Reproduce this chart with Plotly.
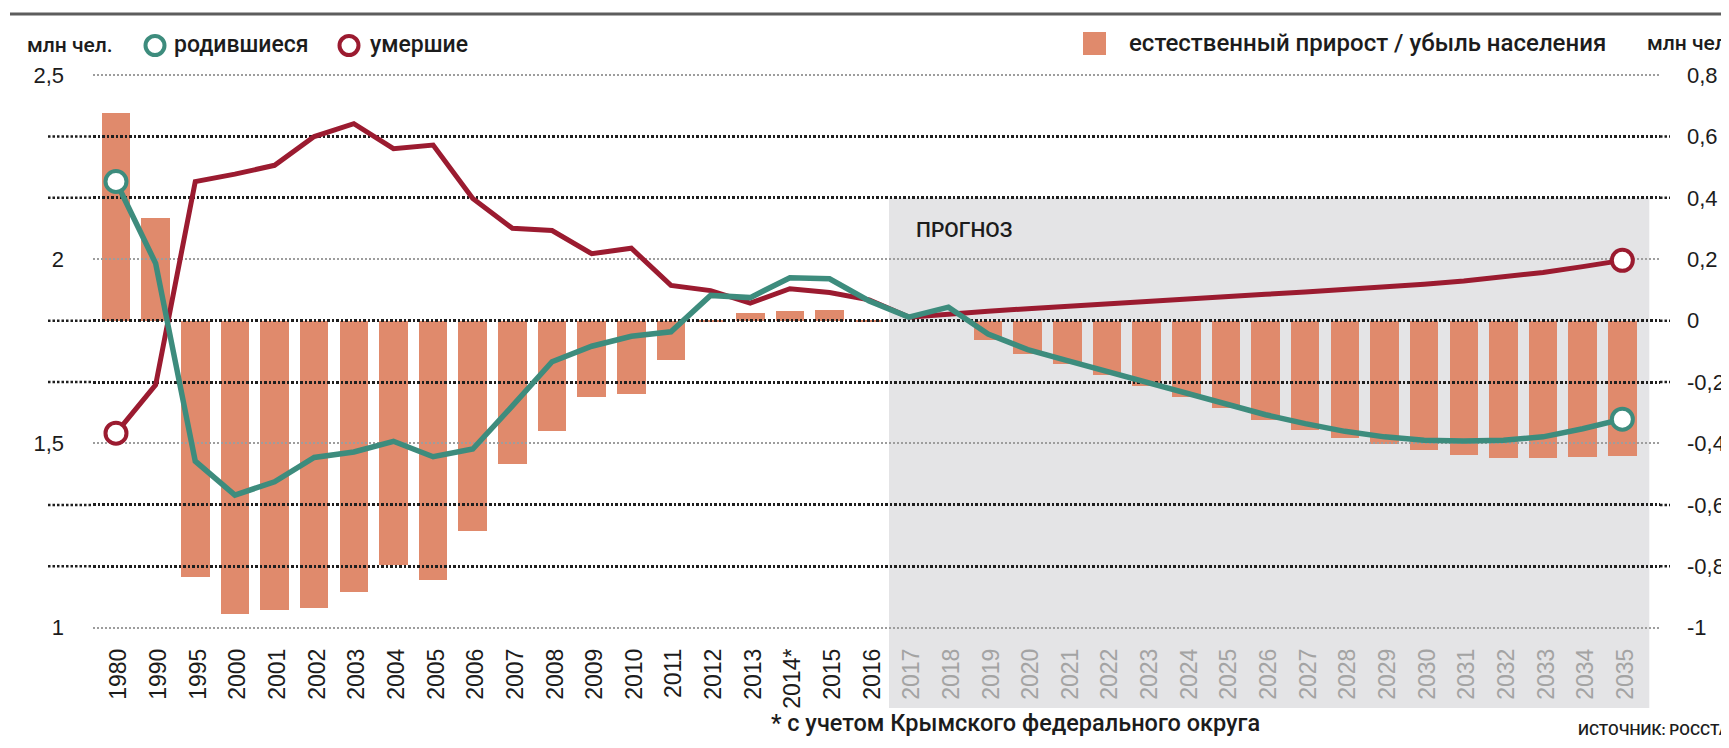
import plotly.graph_objects as go

# ---------------- data ----------------
years = ["1980", "1990", "1995", "2000", "2001", "2002", "2003", "2004", "2005",
         "2006", "2007", "2008", "2009", "2010", "2011", "2012", "2013", "2014*",
         "2015", "2016", "2017", "2018", "2019", "2020", "2021", "2022", "2023",
         "2024", "2025", "2026", "2027", "2028", "2029", "2030", "2031", "2032",
         "2033", "2034", "2035"]

# births, million people (left axis)
births = [2.211, 1.989, 1.452, 1.360, 1.396, 1.462, 1.477, 1.506, 1.464, 1.485,
          1.602, 1.722, 1.764, 1.791, 1.803, 1.902, 1.896, 1.950, 1.947, 1.887,
          1.843, 1.870, 1.797, 1.755, 1.725, 1.695, 1.665, 1.635, 1.606, 1.578,
          1.554, 1.533, 1.518, 1.509, 1.507, 1.509, 1.518, 1.540, 1.566]

# deaths, million people (left axis)
deaths = [1.528, 1.659, 2.211, 2.231, 2.255, 2.333, 2.368, 2.300, 2.310, 2.165,
          2.084, 2.078, 2.015, 2.030, 1.929, 1.915, 1.881, 1.920, 1.910, 1.890,
          1.843, 1.852, 1.859, 1.866, 1.873, 1.880, 1.886, 1.893, 1.899, 1.905,
          1.911, 1.917, 1.924, 1.932, 1.941, 1.952, 1.964, 1.980, 1.997]

# natural increase / decrease, million people (right axis)
natural = [0.678, 0.333, -0.836, -0.955, -0.942, -0.935, -0.885, -0.795, -0.843,
           -0.685, -0.468, -0.360, -0.248, -0.238, -0.127, -0.004, 0.025, 0.033,
           0.036, -0.002, 0.000, 0.000, -0.063, -0.108, -0.140, -0.177, -0.213,
           -0.248, -0.284, -0.323, -0.356, -0.381, -0.403, -0.421, -0.437, -0.447,
           -0.447, -0.444, -0.442]

forecast_from = "2017"

left_ticks = [1, 1.5, 2, 2.5]
left_tick_text = ["1", "1,5", "2", "2,5"]
right_ticks = [0.8, 0.6, 0.4, 0.2, 0, -0.2, -0.4, -0.6, -0.8, -1]
right_tick_text = ["0,8", "0,6", "0,4", "0,2", "0", "-0,2", "-0,4", "-0,6", "-0,8", "-1"]

# ---------------- styling ----------------
TEAL = "#3d8c7d"
RED = "#9b1b30"
BAR = "#e08a6c"
GREY = "#e4e4e6"
DARK_GRID = "#1e1e1e"
LIGHT_GRID = "#9d9d9d"
TXT_COLOR = "#1c1c1c"
NUM_FONT = "Liberation Sans, Arial, sans-serif"
TXT_FONT = "Roboto, sans-serif"

# page (viewport) size and the default 8px body margin of the html page
VW, VH, OFF = 1729, 748, 8
W, H = VW - OFF, VH - OFF
# plot area in viewport pixels
PL, PR, PT, PB = 93, 1660, 60, 640
PW, PH = PR - PL, PB - PT


def px(x):
    return (x - PL) / PW


def py(y):
    return (PB - y) / PH


idx = list(range(len(years)))
f0 = years.index(forecast_from)
x_range = [-0.58, len(years) - 1 + 0.95]
y_right_range = [-1.040, 0.849]


def r2l(r):  # right-axis value -> left-axis value (2 <-> 0.2, 1.5 <-> -0.4)
    return 2 + (r - 0.2) / 1.2


y_left_range = [r2l(v) for v in y_right_range]
dark_ticks = [t for t in right_ticks if all(abs(r2l(t) - l) > 1e-6 for l in left_ticks)]

tick_text = [y if i < f0 else f"<span style='color:#a3a3a3'>{y}</span>"
             for i, y in enumerate(years)]
ends = [1 if i in (0, len(years) - 1) else 0 for i in idx]

fig = go.Figure()

# subplot 1 (x / y): bars
fig.add_trace(go.Bar(
    x=idx, y=natural, xaxis="x", yaxis="y", width=0.72,
    marker=dict(color=BAR, line=dict(width=0)), showlegend=False, hoverinfo="skip"))

# subplot 2 (x2 / y2): carries only the dark dotted grid, drawn above the bars
fig.add_trace(go.Scatter(x=[], y=[], xaxis="x2", yaxis="y2", showlegend=False,
                         hoverinfo="skip"))

# subplot 3 (x3 / y3): births and deaths lines
fig.add_trace(go.Scatter(
    x=idx, y=deaths, xaxis="x3", yaxis="y3", mode="lines+markers",
    line=dict(color=RED, width=5),
    marker=dict(symbol="circle", size=21, color="white", opacity=ends,
                line=dict(color=RED, width=4)),
    showlegend=False, hoverinfo="skip"))

fig.add_trace(go.Scatter(
    x=idx, y=births, xaxis="x3", yaxis="y3", mode="lines+markers",
    line=dict(color=TEAL, width=5.5),
    marker=dict(symbol="circle", size=21, color="white", opacity=ends,
                line=dict(color=TEAL, width=4)),
    showlegend=False, hoverinfo="skip"))

shapes = []
# forecast background
shapes.append(dict(type="rect", xref="x", yref="paper", layer="below",
                   x0=f0 - 0.5, x1=len(years) - 1 + 0.68,
                   y0=py(708), y1=(0.4 - y_right_range[0]) / (y_right_range[1] - y_right_range[0]),
                   fillcolor=GREY, line=dict(width=0)))
# dark grid lines extend a little beyond the plot area
for t in dark_ticks:
    for a, b in ((px(48), 0), (1, px(1670))):
        shapes.append(dict(type="line", xref="paper", yref="y", layer="below",
                           x0=a, x1=b, y0=t, y1=t,
                           line=dict(color=DARK_GRID, width=2.5, dash="2.5px,2px")))
# top rule
shapes.append(dict(type="line", xref="paper", yref="paper", x0=px(10), x1=px(VW),
                   y0=py(14), y1=py(14), line=dict(color="#5d5d5d", width=3)))
# legend symbols
for cx, col in ((155, TEAL), (349, RED)):
    shapes.append(dict(type="circle", xref="paper", yref="paper",
                       x0=px(cx - 9.5), x1=px(cx + 9.5), y0=py(45.5 + 9.5), y1=py(45.5 - 9.5),
                       fillcolor="white", line=dict(color=col, width=4)))
shapes.append(dict(type="rect", xref="paper", yref="paper",
                   x0=px(1083), x1=px(1106), y0=py(55), y1=py(32),
                   fillcolor=BAR, line=dict(width=0)))

ann = []


def note(text, x, y, size, anchor="left", font=TXT_FONT, color=TXT_COLOR, weight=500):
    ann.append(dict(text=text, x=px(x), y=py(y), xref="paper", yref="paper",
                    xanchor=anchor, yanchor="middle", showarrow=False,
                    font=dict(family=font, size=size, color=color, weight=weight)))


note("млн чел.", 25, 45, 21)
note("родившиеся", 172, 45, 23)
note("умершие", 368, 45, 23)
note("естественный прирост / убыль населения", 1127, 43, 24)
note("млн чел.", 1645, 43, 21)
note("ПРОГНОЗ", 914, 230, 21)
note("* с учетом Крымского федерального округа", 1015, 723, 23.5, anchor="center")
note("ИСТОЧНИК: РОССТАТ", 1576, 730, 15.5)

hidden_x = dict(domain=[0, 1], range=x_range, visible=False, showgrid=False,
                zeroline=False, fixedrange=True, automargin=False)

fig.update_layout(
    width=W, height=H,
    margin=dict(l=PL - OFF, r=VW - PR, t=PT - OFF, b=VH - PB, autoexpand=False),
    paper_bgcolor="white", plot_bgcolor="rgba(0,0,0,0)",
    showlegend=False, bargap=0,
    shapes=shapes, annotations=ann,
    xaxis=dict(domain=[0, 1], anchor="y", range=x_range, tickmode="array",
               tickvals=idx, ticktext=tick_text, tickangle=-90, ticks="",
               ticklabelstandoff=3, ticklabelshift=3, automargin=False,
               tickfont=dict(family=NUM_FONT, size=23, color=TXT_COLOR),
               showgrid=False, zeroline=False, showline=False, fixedrange=True),
    yaxis=dict(domain=[0, 1], anchor="x", side="right", range=y_right_range,
               tickmode="array", tickvals=right_ticks, ticktext=right_tick_text,
               ticks="", ticklabelstandoff=26, automargin=False,
               tickfont=dict(family=NUM_FONT, size=22, color=TXT_COLOR),
               showgrid=False, zeroline=False, showline=False),
    xaxis2=dict(anchor="y2", **hidden_x),
    yaxis2=dict(domain=[0, 1], anchor="x2", side="right", range=y_right_range,
                tickmode="array", tickvals=dark_ticks, showticklabels=False, ticks="",
                showgrid=True, gridcolor=DARK_GRID, gridwidth=2.5, griddash="2.5px,2px",
                zeroline=False, showline=False, automargin=False),
    xaxis3=dict(anchor="y3", **hidden_x),
    yaxis3=dict(domain=[0, 1], anchor="x3", side="left", range=y_left_range,
                tickmode="array", tickvals=left_ticks, ticktext=left_tick_text,
                ticks="", ticklabelstandoff=28, automargin=False,
                tickfont=dict(family=NUM_FONT, size=22, color=TXT_COLOR),
                showgrid=True, gridcolor=LIGHT_GRID, gridwidth=2, griddash="2px,2px",
                zeroline=False, showline=False),
)

fig.write_html("out.html")
